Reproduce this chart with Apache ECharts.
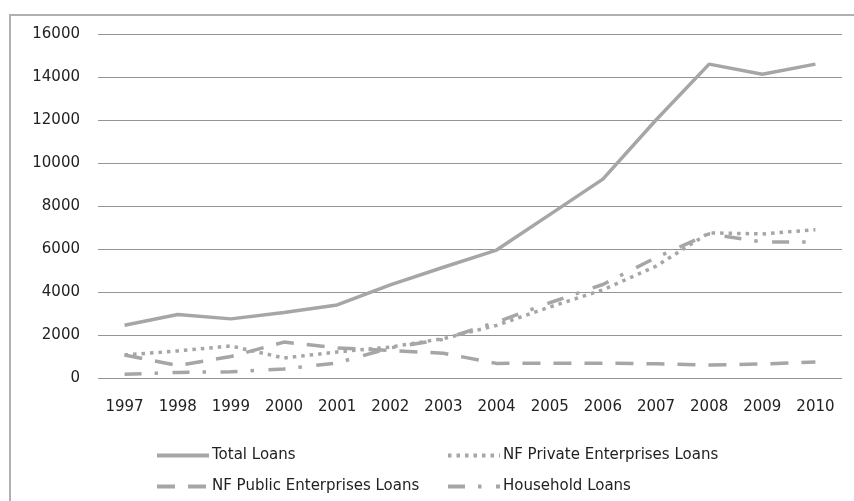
<!DOCTYPE html>
<html>
<head>
<meta charset="utf-8">
<script src="https://cdn.jsdelivr.net/npm/echarts@6/dist/echarts.min.js"></script>
<style>
  html, body { margin: 0; padding: 0; background: #fff; }
  #chart { width: 854px; height: 501px; }
</style>
</head>
<body>
<div id="chart"></div>
<script>
var years = ['1997', '1998', '1999', '2000', '2001', '2002', '2003', '2004', '2005', '2006', '2007', '2008', '2009', '2010'];
var totalLoans = [2450, 2950, 2750, 3050, 3400, 4330, 5150, 5950, 7600, 9250, 12000, 14600, 14130, 14600];
var privateLoans = [1070, 1260, 1490, 930, 1210, 1440, 1830, 2450, 3300, 4100, 5200, 6750, 6700, 6900];
var publicLoans = [1070, 580, 1000, 1670, 1400, 1280, 1150, 680, 690, 690, 660, 600, 650, 740];
var householdLoans = [170, 260, 290, 420, 700, 1400, 1800, 2600, 3500, 4350, 5600, 6700, 6330, 6330];

var grey = '#a6a6a6';
var font = 'DejaVu Sans';

function mkSeries(name, data, dash) {
  return {
    name: name,
    type: 'line',
    data: data,
    symbol: 'none',
    lineStyle: { color: grey, width: 3.5, type: dash },
    itemStyle: { color: grey }
  };
}

function mkLegend(name, left, top) {
  return {
    data: [name],
    left: left,
    top: top,
    itemWidth: 52,
    itemHeight: 14,
    itemGap: 0,
    itemStyle: { opacity: 0 },
    lineStyle: { width: 4 },
    textStyle: { fontFamily: font, fontSize: 15, color: '#222', padding: [0, 0, 0, -2] }
  };
}

var chart = echarts.init(document.getElementById('chart'));
chart.setOption({
  animation: false,
  backgroundColor: '#fff',
  graphic: [{
    type: 'rect',
    shape: { x: 10, y: 15, width: 860, height: 500 },
    style: { fill: 'none', stroke: '#b0b0b0', lineWidth: 2 },
    silent: true
  }],
  grid: { left: 98, right: 12, top: 34, bottom: 123 },
  xAxis: {
    type: 'category',
    data: years,
    boundaryGap: true,
    axisLine: { show: false },
    axisTick: { show: false },
    axisLabel: { fontFamily: font, fontSize: 15, color: '#222', margin: 22 }
  },
  yAxis: {
    type: 'value',
    min: 0,
    max: 16000,
    interval: 2000,
    axisLine: { show: false },
    axisTick: { show: false },
    axisLabel: {
      fontFamily: font, fontSize: 15, color: '#222', margin: 18,
      formatter: function (v) { return String(v); }
    },
    splitLine: { lineStyle: { color: '#959595', width: 1 } }
  },
  legend: [
    mkLegend('Total Loans', 150, 443),
    mkLegend('NF Private Enterprises Loans', 441, 443),
    mkLegend('NF Public Enterprises Loans', 150, 474),
    mkLegend('Household Loans', 441, 474)
  ],
  series: [
    mkSeries('Total Loans', totalLoans, 'solid'),
    mkSeries('NF Private Enterprises Loans', privateLoans, [3.5, 5]),
    mkSeries('NF Public Enterprises Loans', publicLoans, [18, 13]),
    mkSeries('Household Loans', householdLoans, [17, 13, 3.5, 14.5])
  ]
});
</script>
</body>
</html>
